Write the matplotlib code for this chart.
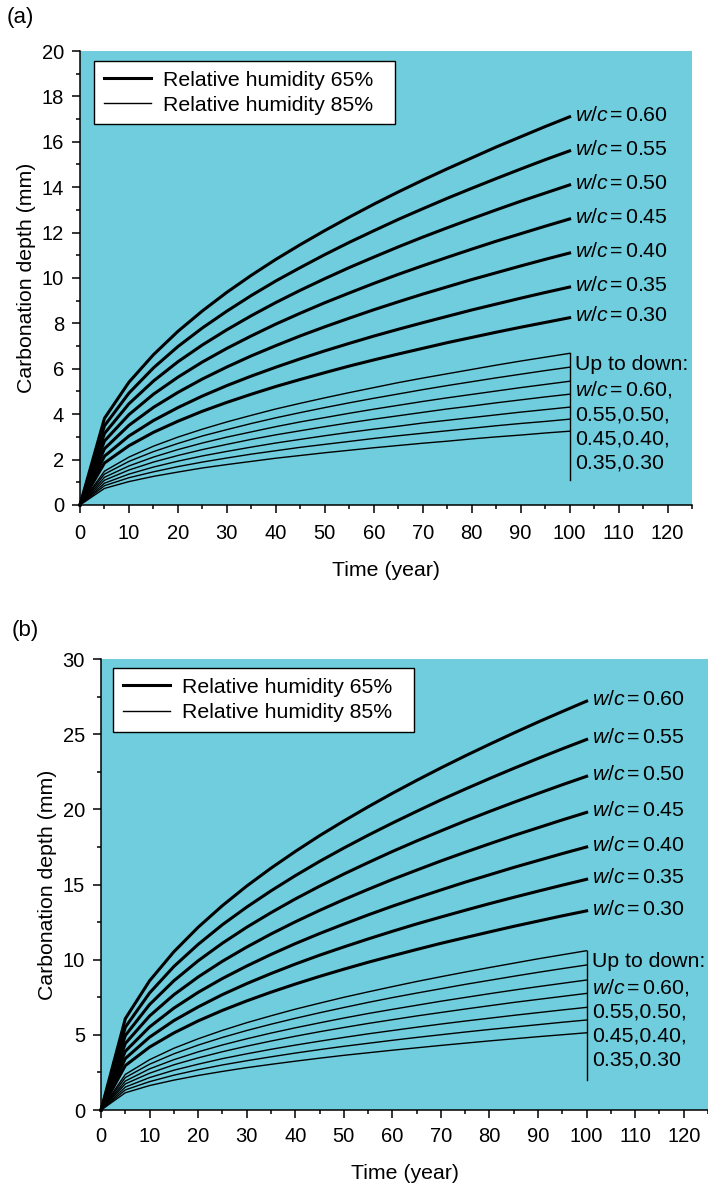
import matplotlib.pyplot as plt
from matplotlib.ticker import MultipleLocator

plt.rcParams['font.family'] = ['Liberation Sans', 'DejaVu Sans']
plt.rcParams['mathtext.fontset'] = 'custom'
plt.rcParams['mathtext.it'] = 'Liberation Sans:italic'
plt.rcParams['mathtext.rm'] = 'Liberation Sans'
plt.rcParams['font.size'] = 15.3

years = [0, 5, 10, 15, 20, 25, 30, 35, 40, 45, 50, 55, 60, 65, 70, 75, 80, 85, 90, 95, 100]
wc_values = ['0.60', '0.55', '0.50', '0.45', '0.40', '0.35', '0.30']

# (a) carbonation depth, RH 65%, w/c 0.60 down to 0.30
a_rh65 = [
    [0, 3.82, 5.41, 6.62, 7.65, 8.55, 9.37, 10.12, 10.82, 11.47, 12.09, 12.68, 13.25, 13.79, 14.31, 14.81, 15.29, 15.77, 16.22, 16.67, 17.10],
    [0, 3.49, 4.93, 6.04, 6.98, 7.80, 8.54, 9.23, 9.87, 10.46, 11.03, 11.57, 12.08, 12.58, 13.05, 13.51, 13.95, 14.38, 14.80, 15.21, 15.60],
    [0, 3.15, 4.46, 5.46, 6.31, 7.05, 7.72, 8.34, 8.92, 9.46, 9.97, 10.46, 10.92, 11.37, 11.80, 12.21, 12.61, 13.00, 13.38, 13.74, 14.10],
    [0, 2.82, 3.98, 4.88, 5.63, 6.30, 6.90, 7.45, 7.97, 8.45, 8.91, 9.34, 9.76, 10.16, 10.54, 10.91, 11.27, 11.62, 11.95, 12.28, 12.60],
    [0, 2.48, 3.51, 4.30, 4.96, 5.55, 6.08, 6.57, 7.02, 7.45, 7.85, 8.23, 8.60, 8.95, 9.29, 9.61, 9.93, 10.23, 10.53, 10.82, 11.10],
    [0, 2.15, 3.04, 3.72, 4.29, 4.80, 5.26, 5.68, 6.07, 6.44, 6.79, 7.12, 7.44, 7.74, 8.03, 8.31, 8.59, 8.85, 9.11, 9.36, 9.60],
    [0, 1.85, 2.61, 3.20, 3.69, 4.13, 4.52, 4.88, 5.22, 5.53, 5.83, 6.12, 6.39, 6.65, 6.90, 7.15, 7.38, 7.61, 7.83, 8.04, 8.25],
]
# (a) RH 85%
a_rh85 = [
    [0, 1.49, 2.11, 2.59, 2.99, 3.34, 3.66, 3.95, 4.23, 4.48, 4.72, 4.95, 5.17, 5.39, 5.59, 5.78, 5.97, 6.16, 6.34, 6.51, 6.68],
    [0, 1.36, 1.92, 2.35, 2.71, 3.04, 3.32, 3.59, 3.84, 4.07, 4.29, 4.50, 4.70, 4.89, 5.08, 5.26, 5.43, 5.60, 5.76, 5.92, 6.07],
    [0, 1.22, 1.72, 2.11, 2.44, 2.73, 2.99, 3.22, 3.45, 3.66, 3.85, 4.04, 4.22, 4.39, 4.56, 4.72, 4.87, 5.02, 5.17, 5.31, 5.45],
    [0, 1.09, 1.54, 1.89, 2.18, 2.44, 2.67, 2.89, 3.09, 3.27, 3.45, 3.62, 3.78, 3.93, 4.08, 4.23, 4.36, 4.50, 4.63, 4.76, 4.88],
    [0, 0.96, 1.36, 1.67, 1.93, 2.16, 2.36, 2.55, 2.73, 2.89, 3.05, 3.20, 3.34, 3.47, 3.61, 3.73, 3.85, 3.97, 4.09, 4.20, 4.31],
    [0, 0.85, 1.20, 1.46, 1.69, 1.89, 2.07, 2.24, 2.39, 2.54, 2.67, 2.80, 2.93, 3.05, 3.16, 3.27, 3.38, 3.49, 3.59, 3.68, 3.78],
    [0, 0.73, 1.03, 1.26, 1.45, 1.63, 1.78, 1.92, 2.06, 2.18, 2.30, 2.41, 2.52, 2.62, 2.72, 2.81, 2.91, 3.00, 3.08, 3.17, 3.25],
]
# (b) RH 65%
b_rh65 = [
    [0, 6.08, 8.60, 10.53, 12.16, 13.60, 14.90, 16.09, 17.20, 18.25, 19.23, 20.17, 21.07, 21.93, 22.76, 23.56, 24.33, 25.08, 25.81, 26.51, 27.20],
    [0, 5.51, 7.79, 9.55, 11.02, 12.33, 13.50, 14.58, 15.59, 16.54, 17.43, 18.28, 19.09, 19.87, 20.63, 21.35, 22.05, 22.73, 23.39, 24.03, 24.65],
    [0, 4.96, 7.02, 8.60, 9.93, 11.10, 12.16, 13.13, 14.04, 14.89, 15.70, 16.46, 17.20, 17.90, 18.57, 19.23, 19.86, 20.47, 21.06, 21.64, 22.20],
    [0, 4.43, 6.26, 7.67, 8.85, 9.90, 10.84, 11.71, 12.52, 13.28, 14.00, 14.68, 15.34, 15.96, 16.57, 17.15, 17.71, 18.26, 18.78, 19.30, 19.80],
    [0, 3.91, 5.53, 6.78, 7.83, 8.75, 9.58, 10.35, 11.07, 11.74, 12.37, 12.98, 13.56, 14.11, 14.64, 15.16, 15.65, 16.14, 16.60, 17.06, 17.50],
    [0, 3.43, 4.85, 5.95, 6.86, 7.68, 8.41, 9.08, 9.71, 10.30, 10.85, 11.38, 11.89, 12.38, 12.84, 13.29, 13.73, 14.15, 14.56, 14.96, 15.35],
    [0, 2.96, 4.19, 5.13, 5.93, 6.63, 7.26, 7.84, 8.38, 8.89, 9.37, 9.83, 10.26, 10.68, 11.09, 11.47, 11.85, 12.22, 12.57, 12.92, 13.25],
]
# (b) RH 85%
b_rh85 = [
    [0, 2.37, 3.35, 4.11, 4.74, 5.30, 5.81, 6.27, 6.71, 7.11, 7.50, 7.86, 8.21, 8.55, 8.87, 9.18, 9.48, 9.77, 10.06, 10.33, 10.60],
    [0, 2.16, 3.05, 3.74, 4.32, 4.83, 5.29, 5.71, 6.10, 6.47, 6.82, 7.16, 7.48, 7.78, 8.07, 8.36, 8.63, 8.90, 9.16, 9.41, 9.65],
    [0, 1.93, 2.74, 3.35, 3.87, 4.33, 4.74, 5.12, 5.47, 5.80, 6.12, 6.42, 6.70, 6.97, 7.24, 7.49, 7.74, 7.98, 8.21, 8.43, 8.65],
    [0, 1.74, 2.45, 3.01, 3.47, 3.88, 4.25, 4.59, 4.91, 5.21, 5.49, 5.76, 6.01, 6.26, 6.49, 6.72, 6.94, 7.16, 7.36, 7.56, 7.76],
    [0, 1.53, 2.16, 2.65, 3.05, 3.42, 3.74, 4.04, 4.32, 4.58, 4.83, 5.07, 5.29, 5.51, 5.72, 5.92, 6.11, 6.30, 6.48, 6.66, 6.83],
    [0, 1.34, 1.89, 2.32, 2.68, 3.00, 3.28, 3.54, 3.79, 4.02, 4.24, 4.44, 4.64, 4.83, 5.01, 5.19, 5.36, 5.52, 5.68, 5.84, 5.99],
    [0, 1.15, 1.63, 1.99, 2.30, 2.57, 2.82, 3.04, 3.25, 3.45, 3.64, 3.81, 3.98, 4.14, 4.30, 4.45, 4.60, 4.74, 4.88, 5.01, 5.14],
]

BG = '#6fcddd'


def wc_text(wc):
    return r'$w/c\,$=$\,$' + wc


def draw_panel(ax, rh65, rh85, ymax, ystep, bracket, note_top, legend_box, xpad):
    ax.set_facecolor(BG)
    for i, depth in enumerate(rh65):
        ax.plot(years, depth, color='black', lw=2.2,
                label='Relative humidity 65%' if i == 0 else None, clip_on=False)
    for i, depth in enumerate(rh85):
        ax.plot(years, depth, color='black', lw=1.0,
                label='Relative humidity 85%' if i == 0 else None, clip_on=False)

    # w/c labels at the end of the thick curves
    for depth, wc in zip(rh65, wc_values):
        ax.text(101.2, depth[-1] + ymax * 0.004, wc_text(wc), ha='left', va='center')

    # bracket joining the thin curves
    ax.plot([100, 100], bracket, color='black', lw=1.0)
    note = 'Up to down:\n' + wc_text('0.60,') + '\n0.55,0.50,\n0.45,0.40,\n0.35,0.30'
    ax.text(101.2, note_top, note, ha='left', va='top', linespacing=1.33)

    ax.set_xlim(0, 125)
    ax.set_ylim(0, ymax)
    ax.xaxis.set_major_locator(MultipleLocator(10))
    ax.xaxis.set_minor_locator(MultipleLocator(5))
    ax.yaxis.set_major_locator(MultipleLocator(ystep))
    ax.yaxis.set_minor_locator(MultipleLocator(ystep / 2))
    ax.tick_params(which='major', direction='out', length=6, width=1.1, labelsize=14.5)
    ax.tick_params(which='minor', direction='out', length=3, width=1.1)
    ax.tick_params(axis='x', pad=xpad)
    ax.tick_params(axis='y', pad=5.5)
    ax.spines['top'].set_visible(False)
    ax.spines['right'].set_visible(False)
    ax.spines['left'].set_linewidth(1.1)
    ax.spines['bottom'].set_linewidth(1.1)
    ax.set_xlabel('Time (year)', labelpad=13)
    ax.set_ylabel('Carbonation depth (mm)', labelpad=4)

    leg = ax.legend(loc='upper left', bbox_to_anchor=legend_box, mode='expand',
                    borderaxespad=0, frameon=True, fancybox=False, framealpha=1,
                    edgecolor='black', handlelength=2.25, handletextpad=0.55,
                    labelspacing=0.3, borderpad=0.45, fontsize=15.3)
    leg.get_frame().set_linewidth(1.0)


fig = plt.figure(figsize=(7.08, 11.89), dpi=100)
ax_a = fig.add_axes([0.113, 0.5753, 0.8644, 0.3818])
ax_b = fig.add_axes([0.1427, 0.0664, 0.8573, 0.3793])

draw_panel(ax_a, a_rh65, a_rh85, 20, 2, [1.1, 6.7], 6.62,
           (0.0229, 0.5, 0.492, 0.478), 8)
draw_panel(ax_b, b_rh65, b_rh85, 30, 5, [2.0, 10.6], 10.5,
           (0.0198, 0.5, 0.496, 0.480), 6)

fig.text(0.009, 0.985, '(a)', fontsize=16, va='center')
fig.text(0.016, 0.47, '(b)', fontsize=16, va='center')

fig.savefig('out.png', dpi=100)
